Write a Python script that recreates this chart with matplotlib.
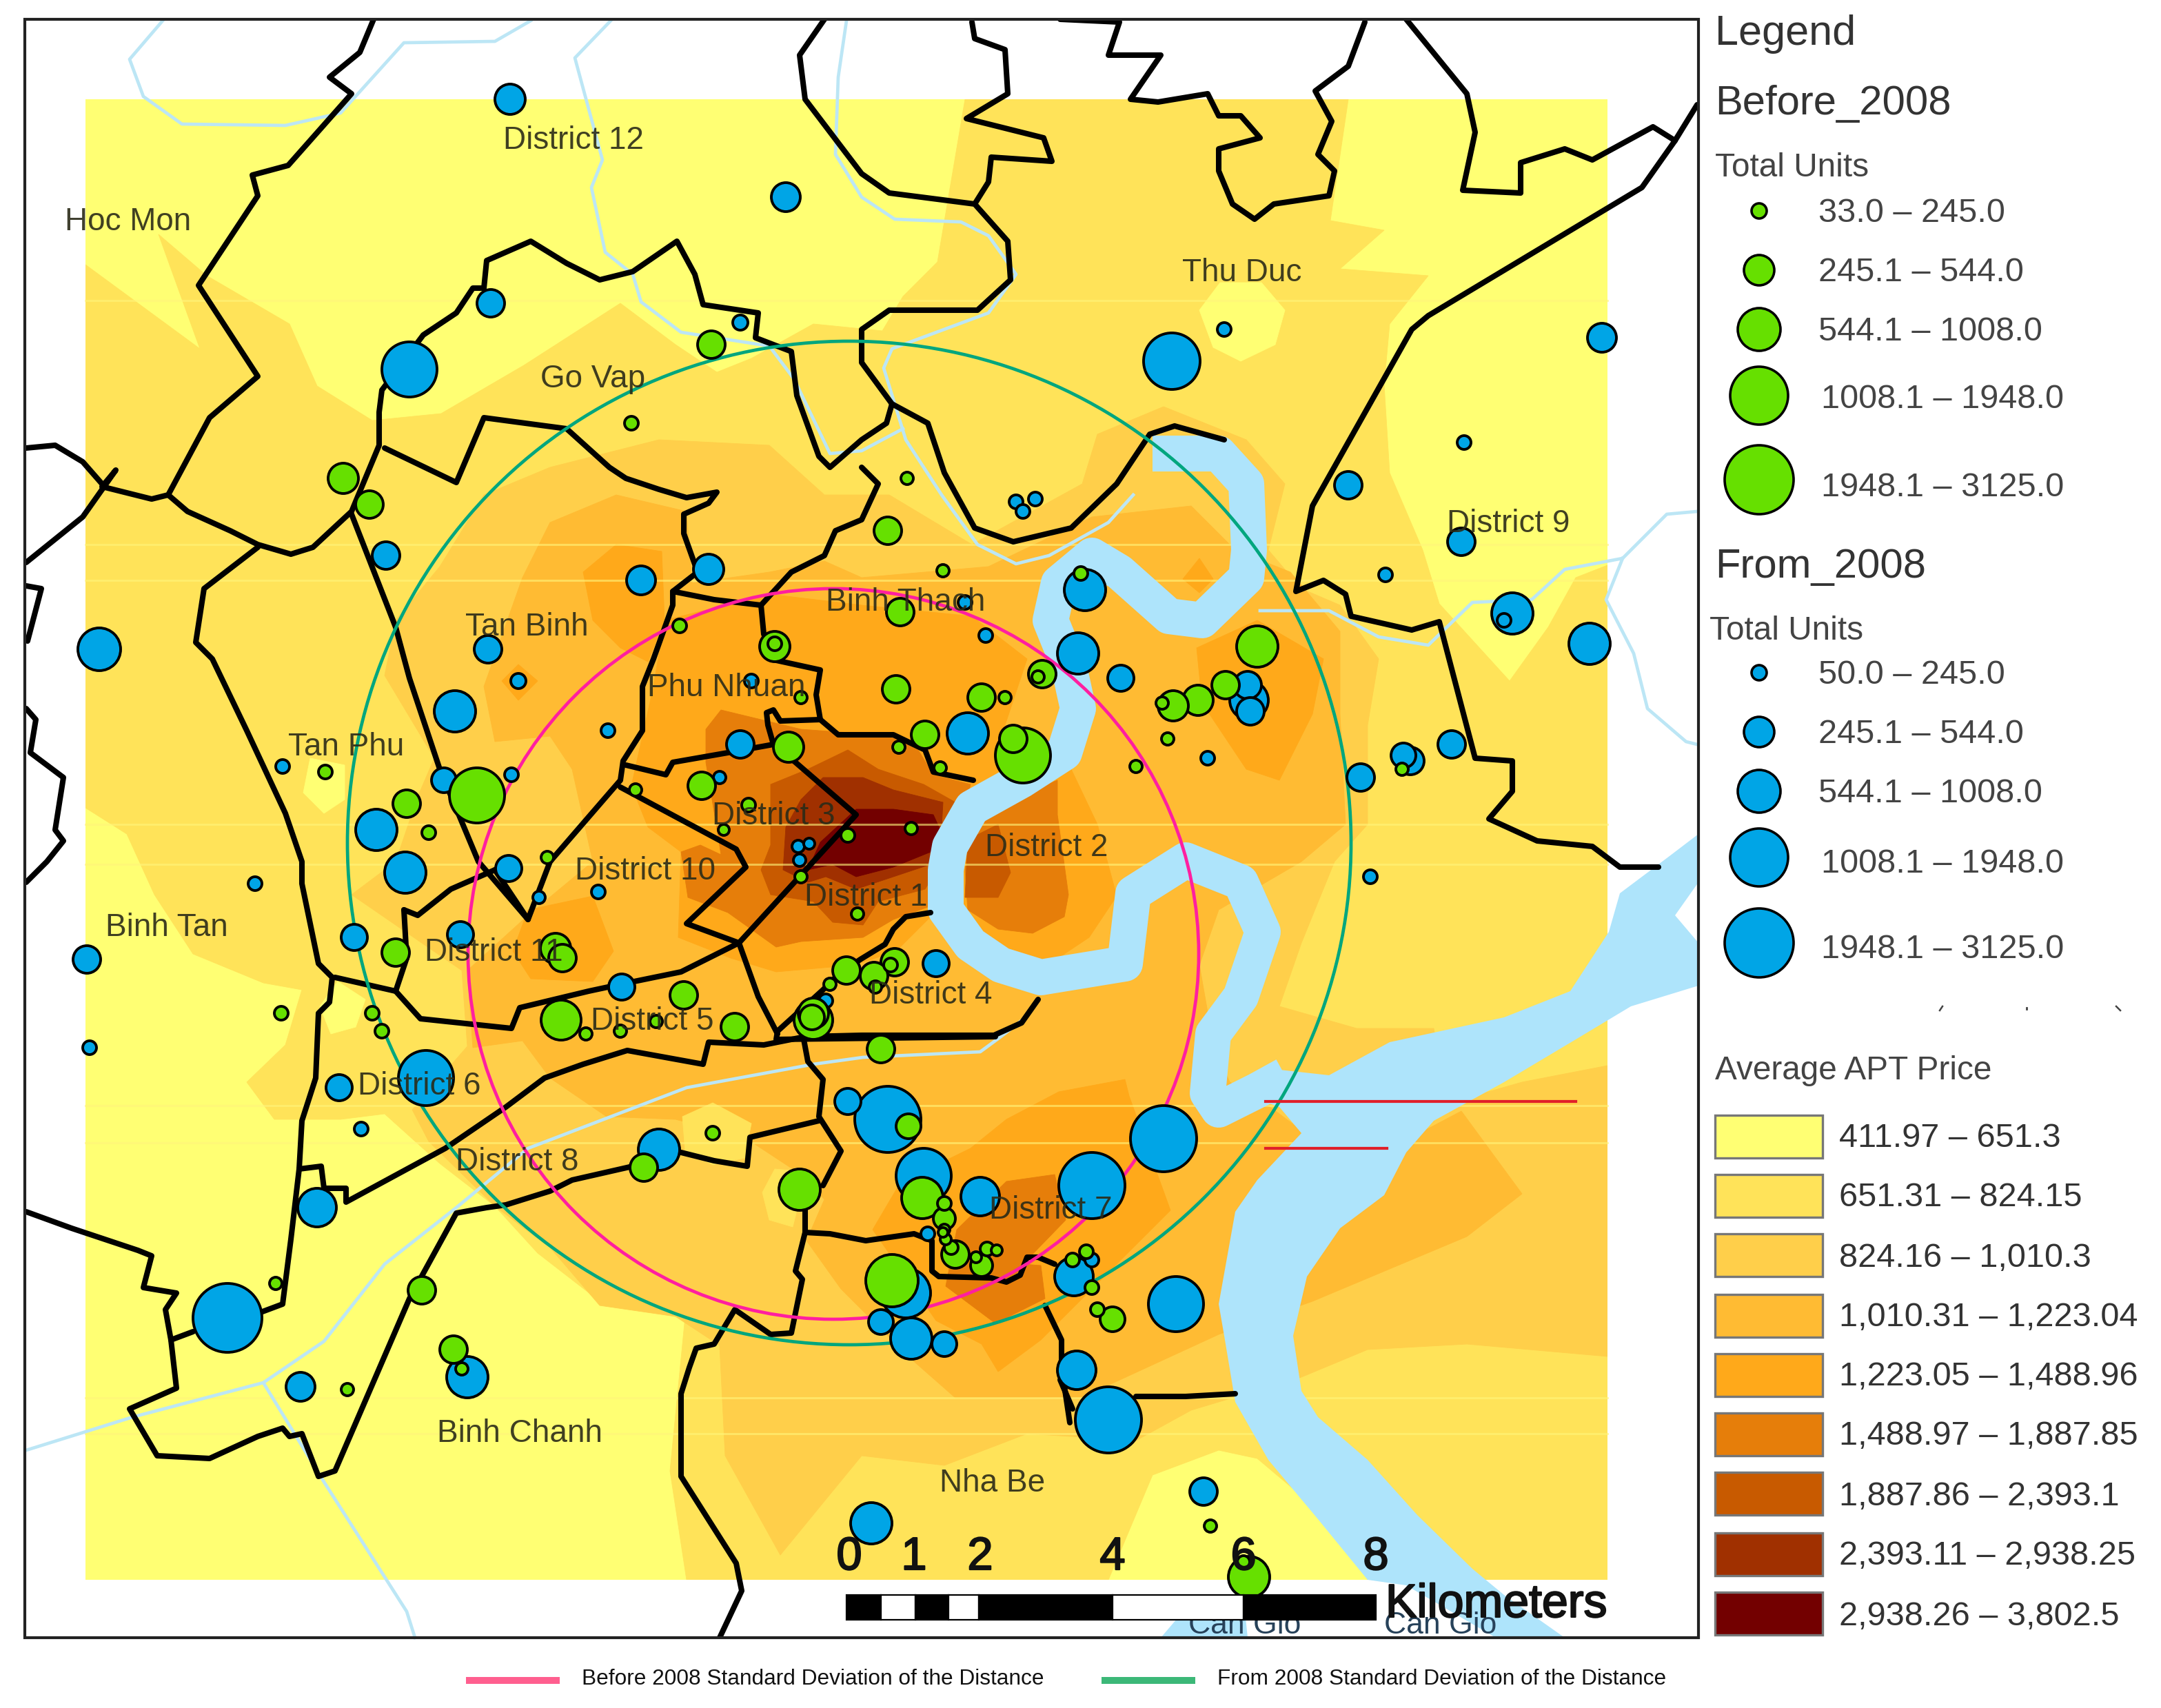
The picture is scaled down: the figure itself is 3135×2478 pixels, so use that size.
import matplotlib
matplotlib.use("Agg")
import matplotlib.pyplot as plt
import matplotlib.patheffects as pe
from matplotlib.patches import Circle, Rectangle, Polygon

plt.rcParams['font.family'] = ['Liberation Sans', 'DejaVu Sans']

# map units are pixels of the half size picture (1567.5 x 1239)
PRICE_COLORS = ['#FFFF73', '#FFE359', '#FFCF4A', '#FFBB33', '#FFA91A', '#E67E0A', '#C85A00', '#A03000', '#730000']
PRICE_LABELS = ['411.97 – 651.3', '651.31 – 824.15', '824.16 – 1,010.3', '1,010.31 – 1,223.04', '1,223.05 – 1,488.96',
                '1,488.97 – 1,887.85', '1,887.86 – 2,393.1', '2,393.11 – 2,938.25', '2,938.26 – 3,802.5']
UNIT_LABELS_BEFORE = ['33.0 – 245.0', '245.1 – 544.0', '544.1 – 1008.0', '1008.1 – 1948.0', '1948.1 – 3125.0']
UNIT_LABELS_FROM = ['50.0 – 245.0', '245.1 – 544.0', '544.1 – 1008.0', '1008.1 – 1948.0', '1948.1 – 3125.0']
UNIT_SIZES = [13, 24, 33, 44, 52]

# price surface, one outline per class
level1 = [(62,192),(145,253),(115,170),(150,200),(210,235),(230,280),(270,305),(320,300),(380,265),(450,220),(490,250),
          (520,270),(545,260),(590,235),(640,240),(655,215),(680,190),(700,72),(978,72),(965,160),(1004,167),(972,195),
          (1036,200),(1008,235),(1004,279),(1008,343),(1032,399),(1044,438),(1095,494),(1123,455),(1143,419),(1166,410),
          (1166,1146),(992,1146),(976,1112),(912,1058),(884,1052),(836,1070),(804,1146),(498,1146),(486,1067),(497,955),
          (439,947),(390,909),(359,875),(319,844),(279,808),(247,812),(199,812),(179,785),(207,758),(219,718),(191,713),
          (140,692),(112,649),(92,605),(62,586)]
yellow_spots = [[(870,225),(885,205),(915,205),(932,225),(925,250),(900,262),(880,252)],
                [(220,575),(225,550),(250,555),(250,580),(235,590)],
                [(232,730),(245,712),(265,725),(258,745),(240,750)]]
level2 = [(287,450),(319,411),(351,359),(399,339),(478,319),(558,323),(598,359),(645,359),(705,395),(785,351),(796,315),
          (844,295),(904,319),(932,351),(920,399),(944,427),(972,439),(1000,478),(992,526),(992,598),(968,625),(944,684),
          (928,730),(984,746),(1040,746),(1048,801),(1104,785),(1166,773),(1166,984),(1064,975),(992,979),(944,999),
          (904,1011),(864,1023),(824,1045),(745,1040),(685,1063),(625,1056),(566,1128),(526,1056),(522,976),(490,955),
          (435,947),(399,905),(359,875),(311,828),(299,805),(339,759),(335,704),(255,649),(287,625),(303,578),(315,550),(279,490)]
level3 = [(379,419),(399,379),(447,359),(498,371),(502,423),(558,415),(598,407),(625,419),(717,411),(792,375),(864,367),
          (896,399),(936,415),(972,458),(972,518),(976,598),(944,625),(884,660),(870,700),(880,757),(892,785),(924,805),
          (944,820),(1024,825),(1060,806),(1104,866),(1064,897),(952,944),(884,968),(784,1014),(693,1014),(660,985),
          (610,935),(585,900),(598,870),(578,850),(540,825),(490,812),(440,810),(399,782),(379,755),(343,760),(339,704),
          (383,664),(430,625),(415,558),(399,534),(359,538),(351,498)]
level4_main = [(474,498),(482,450),(558,431),(625,439),(705,447),(745,478),(725,538),(760,560),(700,600),(680,660),
               (650,690),(620,700),(563,705),(530,695),(492,680),(494,618),(470,600),(458,570)]
level4_east = [(868,470),(912,450),(960,478),(952,518),(928,566),(904,558),(872,510)]
level4_d2 = [(777,558),(796,598),(810,650),(790,680),(760,700),(700,690),(690,600),(720,570)]
level4_lobe = [(423,415),(447,395),(480,400),(482,450),(470,480),(450,470),(430,450)]
level4_d11 = [(383,660),(430,650),(445,690),(430,712),(385,710),(372,690)]
level4_south = [(704,833),(730,812),(768,792),(816,783),(819,795),(849,878),(755,972),(724,995),(712,975),(679,958),
                (633,892),(653,858)]
level4_spots = [[(870,405),(880,420),(870,430),(858,420)], [(364,494),(376,482),(390,494),(376,508)]]
level2_spot = [(824,542),(838,556),(824,570),(810,556)]
level1_spots = [[(495,810),(517,800),(545,815),(540,840),(517,845),(497,835)],
                [(562,848),(585,850),(575,890),(558,885),(553,865)]]
level5_main = [(512,529),(523,515),(552,522),(581,529),(608,531),(648,533),(666,544),(677,562),(704,569),(684,654),
               (648,667),(626,680),(581,683),(563,687),(528,662),(499,651),(494,618),(508,613),(523,620),(519,595),(512,553)]
level5_d2 = [(704,604),(724,584),(767,566),(767,591),(775,649),(772,665),(749,677),(724,674),(702,660),(700,631)]
level5_south = [(730,857),(765,852),(773,885),(742,917),(755,918),(758,942),(722,960),(686,933),(694,892)]
level6_main = [(559,569),(586,558),(615,544),(637,558),(670,569),(693,582),(682,627),(671,645),(637,654),(626,671),
               (604,669),(590,654),(559,649),(552,631),(559,613)]
level6_d2 = [(702,609),(724,598),(733,633),(724,651),(700,651)]
level7 = [(581,580),(597,564),(626,564),(648,573),(684,582),(682,618),(675,627),(648,636),(621,645),(599,636),(586,640),
          (568,631),(570,600)]
level8 = [(621,587),(648,587),(677,591),(682,602),(675,618),(648,629),(621,636),(604,627),(586,631),(595,611)]
streak_y = [218, 395, 421, 598, 627, 802, 829, 1014, 1040]

# water
river_line = [(836,329),(884,329),(904,351),(906,399),(904,419),(872,450),(848,447),(812,415),(792,403),(768,423),(762,450),
              (775,482),(782,514),(772,546),(741,566),(705,586),(689,614),(686,631),(686,660),(704,685),(726,700),(755,709),
              (816,699),(822,648),(860,624),(900,640),(916,676),(900,723),(880,750),(876,793),(884,805),(912,791),(932,780)]
estuary = [(928,776),(964,780),(1008,756),(1091,738),(1139,719),(1167,676),(1175,648),(1211,621),(1232,605),(1232,640),
           (1215,664),(1232,684),(1232,715),(1183,730),(1143,754),(1091,785),(1040,813),(1020,836),(1004,867),(972,891),
           (948,926),(938,969),(944,1009),(956,1028),(992,1059),(1028,1099),(1068,1138),(1091,1157),(1135,1188),(1085,1188),
           (1020,1150),(992,1146),(956,1102),(920,1059),(896,1017),(888,969),(884,946),(896,879),(912,856),(944,822),(928,803),(905,795)]
lagoon = [(842,1188),(865,1161),(902,1159),(905,1188)]
canals = [
    [(118,15),(94,43),(104,70),(132,90),(207,91),(247,82),(293,31),(359,30),(385,15)],
    [(443,15),(417,42),(437,116),(429,136),(439,183),(459,199),(465,219),(494,241),(558,251),(576,275),(602,329),(625,327),(655,311)],
    [(614,15),(608,56),(606,112),(625,143),(649,159),(697,161),(717,171),(737,199),(717,227),(647,253),(641,267),(649,293),
     (657,319),(683,359),(709,395),(737,409),(761,403),(804,379),(822,359)],
    [(914,443),(964,443),(1000,462),(1036,468),(1068,437),(1111,435),(1135,413),(1177,405),(1209,373),(1231,371)],
    [(1177,405),(1165,435),(1185,474),(1195,514),(1223,538),(1231,540)],
    [(19,1052),(96,1028),(191,1003),(235,973),(279,917),(331,876),(383,833),(498,789),(590,772),(626,767),(711,763),(726,752),(744,738)],
    [(191,1003),(235,1075),(295,1169),(301,1188)],
]

# district borders
borders = [
    [(271,14),(261,38),(239,56),(255,68),(209,120),(183,127),(187,142),(144,207),(187,273),(152,303),(122,359),(110,362),(74,353),(84,341),(60,375),(19,408)],
    [(19,325),(40,323),(60,335),(74,351)],
    [(122,359),(136,371),(167,385),(187,395),(211,402),(227,397),(255,371),(275,323),(275,299),(277,283),(307,243),(331,227),(343,209),(351,209),(353,189),(385,175),(411,191),(435,203),(459,197),(491,175),(504,199),(510,221),(550,227),(548,245),(574,255),(578,287),(594,331),(602,339),(625,319),(643,307),(647,293)],
    [(705,16),(707,28),(729,36),(731,68),(701,86),(757,100),(763,117),(719,114),(717,132),(707,148)],
    [(598,14),(580,40),(584,72),(625,126),(645,140),(707,148),(731,175),(733,203),(709,225),(645,225),(625,239),(625,263),(647,293),(673,307),(685,343),(707,383),(735,393),(777,383),(810,351),(834,315),(852,309),(888,319)],
    [(1020,14),(1064,68),(1070,96),(1061,138),(1103,140),(1103,118),(1135,108),(1155,116),(1199,92),(1215,102),(1231,76)],
    [(1215,102),(1191,136),(1036,229),(1024,239),(952,367),(940,429),(960,421),(976,431),(980,447),(1024,457),(1044,451),(1070,550),(1097,552),(1097,574),(1080,594),(1115,610),(1155,614),(1175,629),(1203,629)],
    [(769,14),(812,16),(804,40),(842,40),(820,72),(840,74),(876,68),(884,84),(900,84),(914,100),(884,108),(884,124),(894,148),(910,159),(924,148),(964,142),(968,124),(956,112),(966,88),(954,66),(978,48),(990,16)],
    [(19,425),(30,427),(20,465)],
    [(19,514),(26,522),(22,546),(46,564),(40,602),(46,610),(34,625),(19,640)],
    [(279,325),(331,350),(351,303),(411,311),(442,339),(454,347),(478,355),(498,361),(520,357),(514,365),(496,373),(496,387),(506,415),(488,429),(488,439),(474,478),(466,498),(466,530),(452,552),(450,566),(399,625),(383,667),(359,631)],
    [(255,373),(287,455),(297,492),(319,558),(347,625),(383,667)],
    [(187,397),(148,427),(142,466),(154,478),(179,530),(207,590),(219,625),(219,641),(231,699),(241,709),(239,727),(231,735),(229,782),(219,813),(217,848),(211,899),(205,946),(189,952)],
    [(19,879),(52,891),(100,907),(110,911),(104,934),(128,938),(120,950),(124,972),(140,966)],
    [(124,972),(128,1007),(94,1022),(114,1056),(152,1058),(187,1042),(205,1036),(210,1042),(219,1040),(231,1071),(243,1067),(297,942),(331,880),(353,876),(367,874),(399,864),(415,856),(459,846),(476,834),(494,836),(518,842),(542,846),(544,825),(594,813)],
    [(217,848),(233,846),(235,862),(251,862),(251,872),(323,833),(367,803),(395,782),(423,772),(455,762),(510,772),(514,756),(554,758),(584,752),(625,751),(721,751),(741,742),(753,725)],
    [(293,660),(303,664),(327,645),(359,631)],
    [(293,660),(295,695),(287,719),(243,709)],
    [(287,719),(305,739),(371,746),(377,731),(427,719),(455,713),(494,705),(536,684),(550,723),(564,750)],
    [(536,684),(498,670),(541,629),(534,616),(450,571)],
    [(536,684),(621,591),(577,553),(561,540),(528,546),(488,553),(483,562),(454,555)],
    [(561,540),(557,526),(556,517),(561,515),(566,523),(595,522),(608,533),(648,533),(671,544),(677,560),(706,566)],
    [(595,522),(592,504),(595,486),(563,479),(554,460),(552,439),(518,435),(488,429)],
    [(552,439),(574,415),(598,403),(606,385),(625,377),(637,351),(625,339)],
    [(675,662),(657,665),(648,674),(642,685),(624,696),(608,707),(597,718),(564,748),(563,754),(722,752)],
    [(583,754),(586,770),(597,783),(594,810),(610,835),(597,860)],
    [(584,860),(584,894),(577,922),(582,928),(574,967),(559,968),(533,950),(518,975),(505,978),(500,992),(494,1011),(494,1071),(534,1134),(538,1154),(522,1188)],
    [(584,894),(602,895),(628,900),(663,895),(676,900),(676,922),(681,926),(719,927),(730,930),(740,925),(745,912),(753,912),(765,917)],
    [(758,947),(770,972),(770,992),(776,1032)],
    [(769,1001),(778,1022)],
    [(824,1013),(860,1013),(896,1011)],
]

# sold projects: x, y, symbol diameter
blue_x = [370,570,356,297,537,465,514,280,72,354,376,330,441,537,545,322,371,205,522,273,294,185,369,391,434,63,257,334,451,65,246,309,262,230,165,218,339,478,
          850,888,1162,978,1062,1060,1005,1097,1091,1153,737,751,742,787,782,813,700,715,702,876,987,1018,1023,1053,905,906,907,994,579,587,580,679,599,
          615,644,670,711,792,844,673,657,639,661,685,779,792,853,781,804,873,632]
blue_y = [72,143,220,268,234,421,413,403,471,471,494,516,530,540,494,566,562,556,564,602,633,641,630,651,647,696,680,678,716,760,789,782,819,876,956,1006,999,834,
          262,239,245,352,321,393,417,445,450,467,364,362,371,428,474,492,437,461,532,550,564,548,552,540,497,508,516,636,614,612,624,699,726,
          799,812,853,868,860,826,895,938,959,971,975,926,914,946,994,1030,1082,1105]
blue_d = [24,23,22,42,13,23,24,22,33,22,13,32,12,22,12,20,12,12,11,32,32,12,21,11,12,22,21,21,21,12,21,42,12,30,52,23,32,32,
          43,12,23,22,12,22,12,32,12,32,12,12,12,32,32,21,12,12,32,12,22,20,22,22,22,30,22,12,11,10,11,21,12,
          21,50,42,30,50,50,12,38,20,32,20,30,12,42,30,50,22,32]
green_x = [516,458,249,268,493,562,562,581,572,346,295,236,311,509,461,543,525,615,581,661,622,397,287,403,408,204,270,277,407,425,450,476,496,533,590,590,589,
           614,602,649,646,634,635,639,517,467,580,659,669,685,685,684,685,686,690,693,708,712,716,723,647,200,306,329,335,252,
           784,684,644,658,653,912,889,869,851,843,756,753,650,712,729,671,652,682,742,735,847,824,1017,778,788,792,796,807,878,906,902]
green_y = [250,307,347,366,454,469,467,506,542,577,583,560,604,570,573,584,602,606,636,601,663,622,691,688,695,735,735,748,740,750,748,741,722,745,735,740,738,
           704,714,698,700,708,716,761,822,847,863,817,869,873,884,894,892,899,905,910,912,918,906,907,929,931,936,979,993,1008,
           416,414,385,347,444,469,497,508,512,510,489,491,500,506,506,533,542,557,548,536,536,556,558,914,908,934,950,957,1107,1144,1133]
green_d = [22,12,24,22,12,24,12,11,24,42,22,12,12,22,11,12,10,12,11,11,11,11,22,24,22,12,12,12,31,11,11,11,22,22,24,30,20,
           22,11,22,12,22,11,22,12,22,32,20,32,12,18,9,10,10,12,22,10,18,12,10,40,11,22,22,11,11,
           12,11,22,11,22,32,22,24,24,11,22,11,22,22,11,22,11,11,42,22,11,11,11,12,12,12,12,20,11,32,11]

district_names = ['Hoc Mon','District 12','Thu Duc','Go Vap','District 9','Tan Binh','Binh Thach','Phu Nhuan','Tan Phu','District 3',
                  'District 2','District 10','District 1','Binh Tan','District 11','District 4','District 5','District 6',
                  'District 8','District 7','Binh Chanh','Nha Be']
name_x = [93,416,901,430,1094,382,657,527,251,561,759,468,628,121,358,675,473,304,375,762,377,720]
name_y = [161,102,198,275,380,455,437,499,542,592,615,632,651,673,691,722,741,788,843,878,1040,1076]

scale_km = [0, 1, 2, 4, 6, 8]
scale_x = [616, 663, 711, 807, 902, 998]
scale_edges = [614, 639, 664, 688, 710, 807, 902, 998]

# 1 map pixel = 2 image pixels, and 1 pt = 200/72 image pixels
PT = 0.72


def size(d):
    return ((d - 2) * PT) ** 2


fig = plt.figure(figsize=(3135 / 200, 2478 / 200), dpi=200, facecolor='white')
ax = fig.add_axes([0, 0, 1, 1])
ax.set_xlim(0, 1567.5)
ax.set_ylim(1239, 0)
ax.axis('off')

raster_clip = Rectangle((62, 72), 1104, 1074, transform=ax.transData)
frame_clip = Rectangle((18, 14), 1214, 1174, transform=ax.transData)


def surface(points, color, z=1):
    p = Polygon(points, closed=True, facecolor=color, edgecolor=color, linewidth=0.3, zorder=z)
    ax.add_patch(p)
    p.set_clip_path(raster_clip)


# price surface
ax.add_patch(Rectangle((62, 72), 1104, 1074, facecolor=PRICE_COLORS[0], edgecolor='none', zorder=1))
surface(level1, PRICE_COLORS[1])
for spot in yellow_spots:
    surface(spot, PRICE_COLORS[0])
surface(level2, PRICE_COLORS[2])
surface(level2_spot, PRICE_COLORS[2])
surface(level3, PRICE_COLORS[3])
for spot in level1_spots:
    surface(spot, PRICE_COLORS[1])
surface(level4_main, PRICE_COLORS[4])
surface(level4_east, PRICE_COLORS[4])
surface(level4_d2, PRICE_COLORS[4])
surface(level4_lobe, PRICE_COLORS[4])
surface(level4_d11, PRICE_COLORS[4])
surface(level4_south, PRICE_COLORS[4])
for spot in level4_spots:
    surface(spot, PRICE_COLORS[4])
surface(level5_main, PRICE_COLORS[5])
surface(level5_d2, PRICE_COLORS[5])
surface(level5_south, PRICE_COLORS[5])
surface(level6_main, PRICE_COLORS[6])
surface(level6_d2, PRICE_COLORS[6])
surface(level7, PRICE_COLORS[7])
surface(level8, PRICE_COLORS[8])
for y in streak_y:
    ax.plot([62, 1166], [y, y], color='#FFF47A', lw=1.1, alpha=0.6, zorder=2)

# water
ax.plot(*zip(*river_line), color='#AEE4FB', lw=26 * PT, solid_joinstyle='round', solid_capstyle='butt', zorder=3)
for shape in [estuary, lagoon]:
    p = Polygon(shape, closed=True, facecolor='#AEE4FB', edgecolor='none', zorder=3)
    ax.add_patch(p)
    p.set_clip_path(frame_clip)
for line in canals:
    ax.plot(*zip(*line), color='#BCE6F5', lw=1.7, zorder=4)

# borders
for line in borders:
    l, = ax.plot(*zip(*line), color='black', lw=2.9, solid_joinstyle='round', solid_capstyle='round', zorder=5)
    l.set_clip_path(frame_clip)

# standard deviation circles
ax.add_patch(Circle((616, 611.5), 364, fill=False, edgecolor='#00A67E', lw=1.7, zorder=6))
ax.add_patch(Circle((604.5, 692), 265, fill=False, edgecolor='#FF1FA0', lw=1.7, zorder=6))
ax.plot([918, 1143], [799, 799], color='#E0202A', lw=1.5, zorder=6)
ax.plot([918, 1006], [833, 833], color='#E0202A', lw=1.5, zorder=6)

# points, big ones first
for xs, ys, ds, col, z in [(blue_x, blue_y, blue_d, '#00A5E6', 7), (green_x, green_y, green_d, '#66E000', 8)]:
    order = sorted(range(len(ds)), key=lambda i: -ds[i])
    ax.scatter([xs[i] for i in order], [ys[i] for i in order], s=[size(ds[i]) for i in order],
               facecolor=col, edgecolor='black', linewidth=1.4, zorder=z)

for name, x, y in zip(district_names, name_x, name_y):
    ax.text(x, y, name, fontsize=16.5, color='#2B2B18', ha='center', va='center', alpha=0.9, zorder=9)
ax.text(903, 1179, 'Can Gio', fontsize=16, color='#27425A', ha='center', va='center', zorder=9)
ax.text(1045, 1179, 'Can Gio', fontsize=16, color='#27425A', ha='center', va='center', zorder=9)

# scale bar
heavy = [pe.withStroke(linewidth=0.8, foreground='#111111')]
for i in range(len(scale_edges) - 1):
    ax.add_patch(Rectangle((scale_edges[i], 1157), scale_edges[i + 1] - scale_edges[i], 18,
                           facecolor='white' if i % 2 else 'black', edgecolor='black', lw=0.8, zorder=10))
for km, x in zip(scale_km, scale_x):
    ax.text(x, 1130, str(km), fontsize=24, ha='center', va='center', color='#111111', zorder=10, path_effects=heavy)
ax.text(1005, 1164, 'Kilometers', fontsize=24.5, ha='left', va='center', color='#111111', zorder=11, path_effects=heavy)

ax.add_patch(Rectangle((18, 14), 1214, 1174, fill=False, edgecolor='#222222', lw=1.5, zorder=12))

# right hand legend
ax.text(1244, 25, 'Legend', fontsize=22, color='#333333', va='center')
ax.text(1244, 75, 'Before_2008', fontsize=21.5, color='#333333', va='center')
ax.text(1244, 122, 'Total Units', fontsize=17.2, color='#444444', va='center')
ax.text(1244, 411, 'From_2008', fontsize=21.5, color='#333333', va='center')
ax.text(1240, 458, 'Total Units', fontsize=17.2, color='#444444', va='center')
ax.text(1244, 777, 'Average APT Price', fontsize=17.2, color='#444444', va='center')

before_y = [153, 196, 239, 287, 348]
before_text_y = [155, 198, 241, 290, 354]
from_y = [488, 531, 574, 622, 684]
from_text_y = [490, 533, 576, 627, 689]
text_x = [1319, 1319, 1319, 1321, 1321]
for ys, tys, labels, col in [(before_y, before_text_y, UNIT_LABELS_BEFORE, '#66E000'), (from_y, from_text_y, UNIT_LABELS_FROM, '#00A5E6')]:
    ax.scatter([1276] * 5, ys, s=[size(d) for d in UNIT_SIZES], facecolor=col, edgecolor='black', linewidth=1.3)
    for tx, ty, label in zip(text_x, tys, labels):
        ax.text(tx, ty, label, fontsize=17.5, color='#444444', va='center')

swatch_top = [809, 852, 895, 939, 982, 1025, 1068, 1112, 1155]
swatch_text_y = [826, 869, 913, 956, 999, 1042, 1086, 1129, 1173]
for top, ty, col, label in zip(swatch_top, swatch_text_y, PRICE_COLORS, PRICE_LABELS):
    ax.add_patch(Rectangle((1244, top), 78, 31, facecolor=col, edgecolor='#777777', lw=1.2))
    ax.text(1334, ty, label, fontsize=17.5, color='#333333', va='center')

# stray marks left under the legend
ax.plot([1407, 1409], [733, 730], color='#444444', lw=0.9)
ax.plot([1470, 1470], [731, 732], color='#444444', lw=1.0)
ax.plot([1535, 1538], [730, 733], color='#444444', lw=0.9)

# bottom legend
ax.plot([338, 406], [1219, 1219], color='#FF5F8F', lw=3.6, solid_capstyle='butt')
ax.text(422, 1218, 'Before 2008 Standard Deviation of the Distance', fontsize=11.4, va='center', color='#111111')
ax.plot([799, 867], [1219, 1219], color='#3CB878', lw=3.6, solid_capstyle='butt')
ax.text(883, 1218, 'From 2008 Standard Deviation of the Distance', fontsize=11.4, va='center', color='#111111')

fig.savefig('out.png', dpi=200, facecolor='white')
